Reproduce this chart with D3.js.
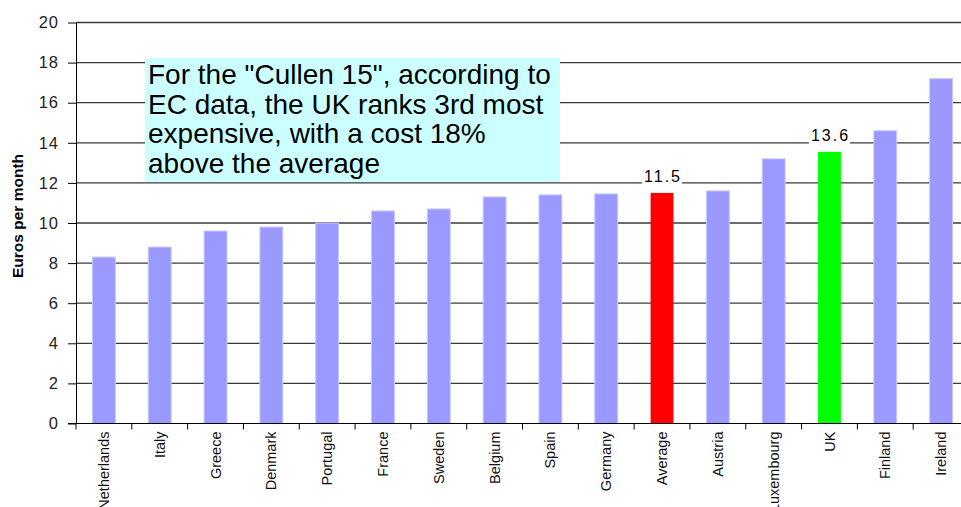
<!DOCTYPE html>
<html>
<head>
<meta charset="utf-8">
<script src="https://cdn.jsdelivr.net/npm/d3@7"></script>
<style>
  body { margin: 0; background: #fff; }
  text { font-family: "Liberation Sans", Arial, sans-serif; }
</style>
</head>
<body>
<div id="chart_wrapper"></div>
<script>
// data
var countries = ["Netherlands", "Italy", "Greece", "Denmark", "Portugal", "France", "Sweden", "Belgium",
                 "Spain", "Germany", "Average", "Austria", "Luxembourg", "UK", "Finland", "Ireland"];
var costs = [8.3, 8.8, 9.6, 9.8, 10.0, 10.6, 10.7, 11.3, 11.4, 11.45, 11.5, 11.6, 13.2, 13.55, 14.6, 17.2];
var labelled = ["Average", "UK"];
var yTicks = [0, 2, 4, 6, 8, 10, 12, 14, 16, 18, 20];
var noteLines = ['For the "Cullen 15", according to',
                 "EC data, the UK ranks 3rd most",
                 "expensive, with a cost 18%",
                 "above the average"];

var width = 961,
    height = 507,
    margin = { left: 76, right: -8, top: 22.5, bottom: 83.5 };

var data = countries.map(function(c, i) { return { name: c, value: costs[i] }; });

var svg = d3.select("#chart_wrapper").append("svg")
    .attr("width", width).attr("height", height);

var x = d3.scaleBand().domain(countries)
    .range([margin.left, width - margin.right])
    .paddingInner(0.59).paddingOuter(0.295);
var y = d3.scaleLinear().domain([0, 20]).range([height - margin.bottom, margin.top]);

var barColor = function(d) {
    if (d.name == "Average") return "#ff0000";
    if (d.name == "UK") return "#00ff00";
    return "#9999ff";
};

// gridlines
svg.append("g").selectAll("line").data(yTicks.slice(1)).enter().append("line")
    .attr("x1", margin.left).attr("x2", width)
    .attr("y1", function(d) { return y(d); }).attr("y2", function(d) { return y(d); })
    .attr("stroke", "#3a3a3a").attr("stroke-width", 1.3);

// note box
var note = svg.append("g");
note.append("rect").attr("x", 145).attr("y", 58).attr("width", 415).attr("height", y(12) - 58 - 1)
    .attr("fill", "#ccffff");
note.selectAll("text").data(noteLines).enter().append("text")
    .attr("x", 148).attr("y", function(d, i) { return 84 + i * 29.5; })
    .attr("font-size", 28).attr("fill", "#000")
    .text(function(d) { return d; });

// bars
svg.append("g").selectAll("rect").data(data).enter().append("rect")
    .attr("x", function(d) { return x(d.name); })
    .attr("y", function(d) { return y(d.value); })
    .attr("width", x.bandwidth())
    .attr("height", function(d) { return y(0) - y(d.value); })
    .attr("fill", barColor)
    .attr("stroke", function(d) { return labelled.includes(d.name) ? "none" : "#c8c8ff"; })
    .attr("stroke-width", 1);

// value labels for Average and UK
var lab = svg.append("g").selectAll("g").data(data.filter(function(d) { return labelled.includes(d.name); }))
    .enter().append("g");
lab.append("rect").attr("fill", "#fff");
lab.append("text")
    .attr("x", function(d) { return x(d.name) + x.bandwidth() / 2 + 1; })
    .attr("y", function(d) { return y(d.value) - 11; })
    .attr("text-anchor", "middle").attr("font-size", 16).attr("letter-spacing", 2)
    .attr("fill", "#000")
    .text(function(d) { return d3.format(".1f")(d.value); });
lab.each(function() {
    var g = d3.select(this);
    var b = g.select("text").node().getBBox();
    g.select("rect").attr("x", b.x - 2).attr("y", b.y).attr("width", b.width + 2).attr("height", b.height + 2);
});

// y axis
var yAxis = svg.append("g")
    .attr("transform", "translate(" + margin.left + ",0)")
    .call(d3.axisLeft(y).tickValues(yTicks).tickSize(8).tickSizeOuter(0).tickPadding(9));
yAxis.selectAll("text").attr("font-size", 16.5).attr("letter-spacing", 1).attr("fill", "#222")
    .attr("font-family", "Liberation Sans, Arial, sans-serif");
yAxis.selectAll("line, path").attr("stroke", "#000");

// x axis line and ticks between categories
var gap = (x.step() - x.bandwidth()) / 2;
var xTicks = countries.map(function(c) { return x(c) - gap; });
xTicks.push(x(countries[countries.length - 1]) + x.bandwidth() + gap);
svg.append("line").attr("x1", margin.left - 8).attr("x2", width)
    .attr("y1", y(0)).attr("y2", y(0)).attr("stroke", "#000");
svg.append("g").selectAll("line").data(xTicks).enter().append("line")
    .attr("x1", function(d) { return d; }).attr("x2", function(d) { return d; })
    .attr("y1", y(0)).attr("y2", y(0) + 6).attr("stroke", "#000");

svg.append("g").selectAll("text").data(countries).enter().append("text")
    .attr("transform", function(d) { return "translate(" + (x(d) + x.bandwidth() / 2) + "," + (y(0) + 8) + ") rotate(-90)"; })
    .attr("dy", "0.35em").attr("text-anchor", "end")
    .attr("font-size", 14.5).attr("fill", "#111")
    .text(function(d) { return d; });

// y axis title
svg.append("text")
    .attr("transform", "translate(18,216) rotate(-90)")
    .attr("dy", "0.35em").attr("text-anchor", "middle")
    .attr("font-size", 15.5).attr("font-weight", "bold").attr("fill", "#000")
    .text("Euros per month");
</script>
</body>
</html>
